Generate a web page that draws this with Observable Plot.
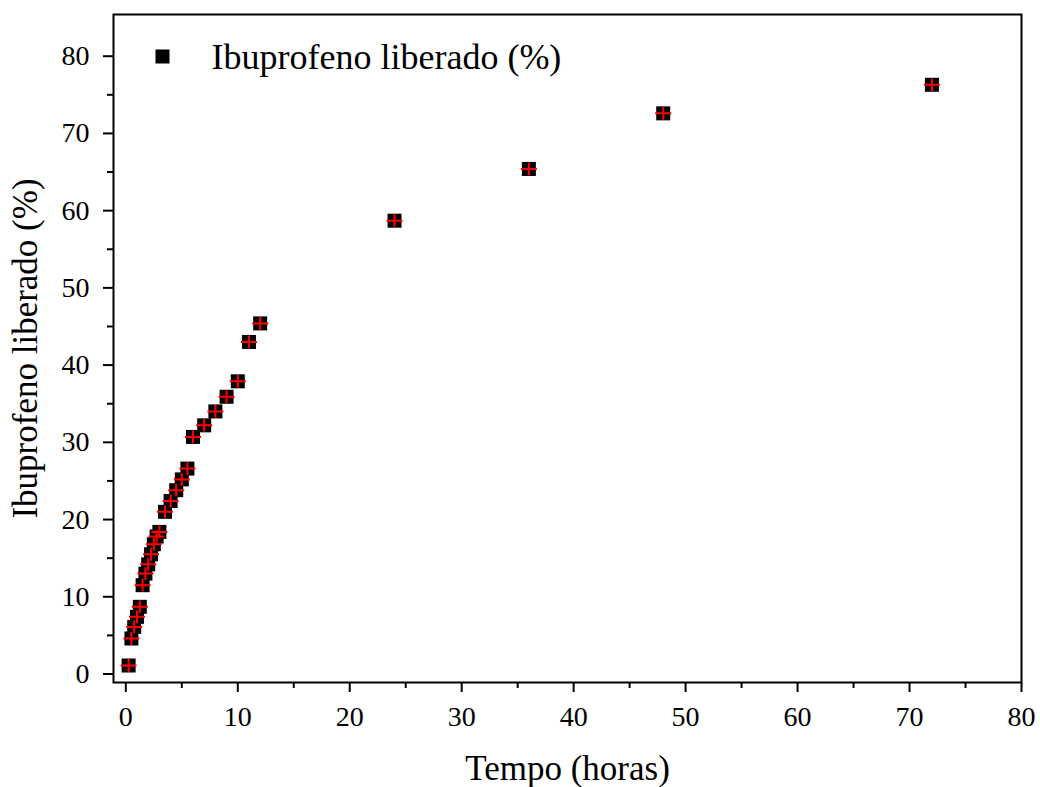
<!DOCTYPE html>
<html>
<head>
<meta charset="utf-8">
<script src="https://cdn.jsdelivr.net/npm/d3@7"></script>
<script src="https://cdn.jsdelivr.net/npm/@observablehq/plot@0.6"></script>
<style>
  html, body { margin: 0; padding: 0; background: white; }
</style>
</head>
<body>
<div id="chart"></div>
<script>
// Data
const tempo = [0.25, 0.5, 0.75, 1, 1.25, 1.5, 1.75, 2, 2.25, 2.5, 2.75, 3, 3.5, 4, 4.5, 5, 5.5, 6, 7, 8, 9, 10, 11, 12, 24, 36, 48, 72];
const liberado = [1.1, 4.6, 6.1, 7.4, 8.7, 11.5, 13.0, 14.2, 15.5, 16.8, 17.8, 18.4, 21.0, 22.4, 23.8, 25.2, 26.6, 30.7, 32.2, 34.0, 35.9, 37.9, 43.0, 45.4, 58.7, 65.4, 72.6, 76.3];
const xMajorTicks = [0, 10, 20, 30, 40, 50, 60, 70, 80];
const xMinorTicks = [5, 15, 25, 35, 45, 55, 65, 75];
const yMajorTicks = [0, 10, 20, 30, 40, 50, 60, 70, 80];
const yMinorTicks = [5, 15, 25, 35, 45, 55, 65, 75];
const xLabel = "Tempo (horas)";
const yLabel = "Ibuprofeno liberado (%)";
const legendLabel = "Ibuprofeno liberado (%)";

const data = tempo.map((t, i) => ({t, v: liberado[i]}));

const crossSymbol = {
  draw(ctx, size) {
    const r = Math.sqrt(size / Math.PI);
    ctx.moveTo(-r, 0); ctx.lineTo(r, 0);
    ctx.moveTo(0, -0.8 * r); ctx.lineTo(0, 0.8 * r);
  }
};

const serif = "'Liberation Serif', 'Times New Roman', Times, serif";

const chart = Plot.plot({
  width: 1040,
  height: 787,
  marginLeft: 113,
  marginRight: 19,
  marginTop: 14,
  marginBottom: 105,
  x: {domain: [-1.1, 80]},
  y: {domain: [-1.1, 85.4]},
  style: {fontFamily: serif, background: "white", color: "black"},
  marks: [
    Plot.axisX({ticks: xMajorTicks, tickSize: 10, tickPadding: 14, strokeWidth: 2, fontSize: 28, label: null, tickFormat: d => String(d)}),
    Plot.axisX({ticks: xMinorTicks, tickSize: 6, strokeWidth: 2, label: null, tickFormat: () => ""}),
    Plot.axisY({ticks: yMajorTicks, tickSize: 10, tickPadding: 14, strokeWidth: 2, fontSize: 28, label: null, tickFormat: d => String(d)}),
    Plot.axisY({ticks: yMinorTicks, tickSize: 6, strokeWidth: 2, label: null, tickFormat: () => ""}),
    Plot.frame({stroke: "black", strokeWidth: 2}),
    Plot.dot(data, {x: "t", y: "v", symbol: "square", r: 7.9, fill: "black", stroke: "none"}),
    Plot.dot(data, {x: "t", y: "v", symbol: crossSymbol, r: 8, fill: "none", stroke: "#ff0000", strokeWidth: 2}),
    // legend
    Plot.dot([legendLabel], {frameAnchor: "top-left", dx: 49, dy: 42, symbol: "square", r: 7.9, fill: "black", stroke: "none"}),
    Plot.text([legendLabel], {frameAnchor: "top-left", dx: 98, dy: 42.5, text: d => d, textAnchor: "start", lineAnchor: "middle", fontSize: 36, fill: "black"}),
    // axis titles
    Plot.text([xLabel], {frameAnchor: "bottom", dy: 86, text: d => d, textAnchor: "middle", lineAnchor: "middle", fontSize: 35, fill: "black"}),
    Plot.text([yLabel], {frameAnchor: "left", dx: -87.5, rotate: -90, text: d => d, textAnchor: "middle", lineAnchor: "middle", fontSize: 35, fill: "black"})
  ]
});
document.getElementById("chart").appendChild(chart);
</script>
</body>
</html>
